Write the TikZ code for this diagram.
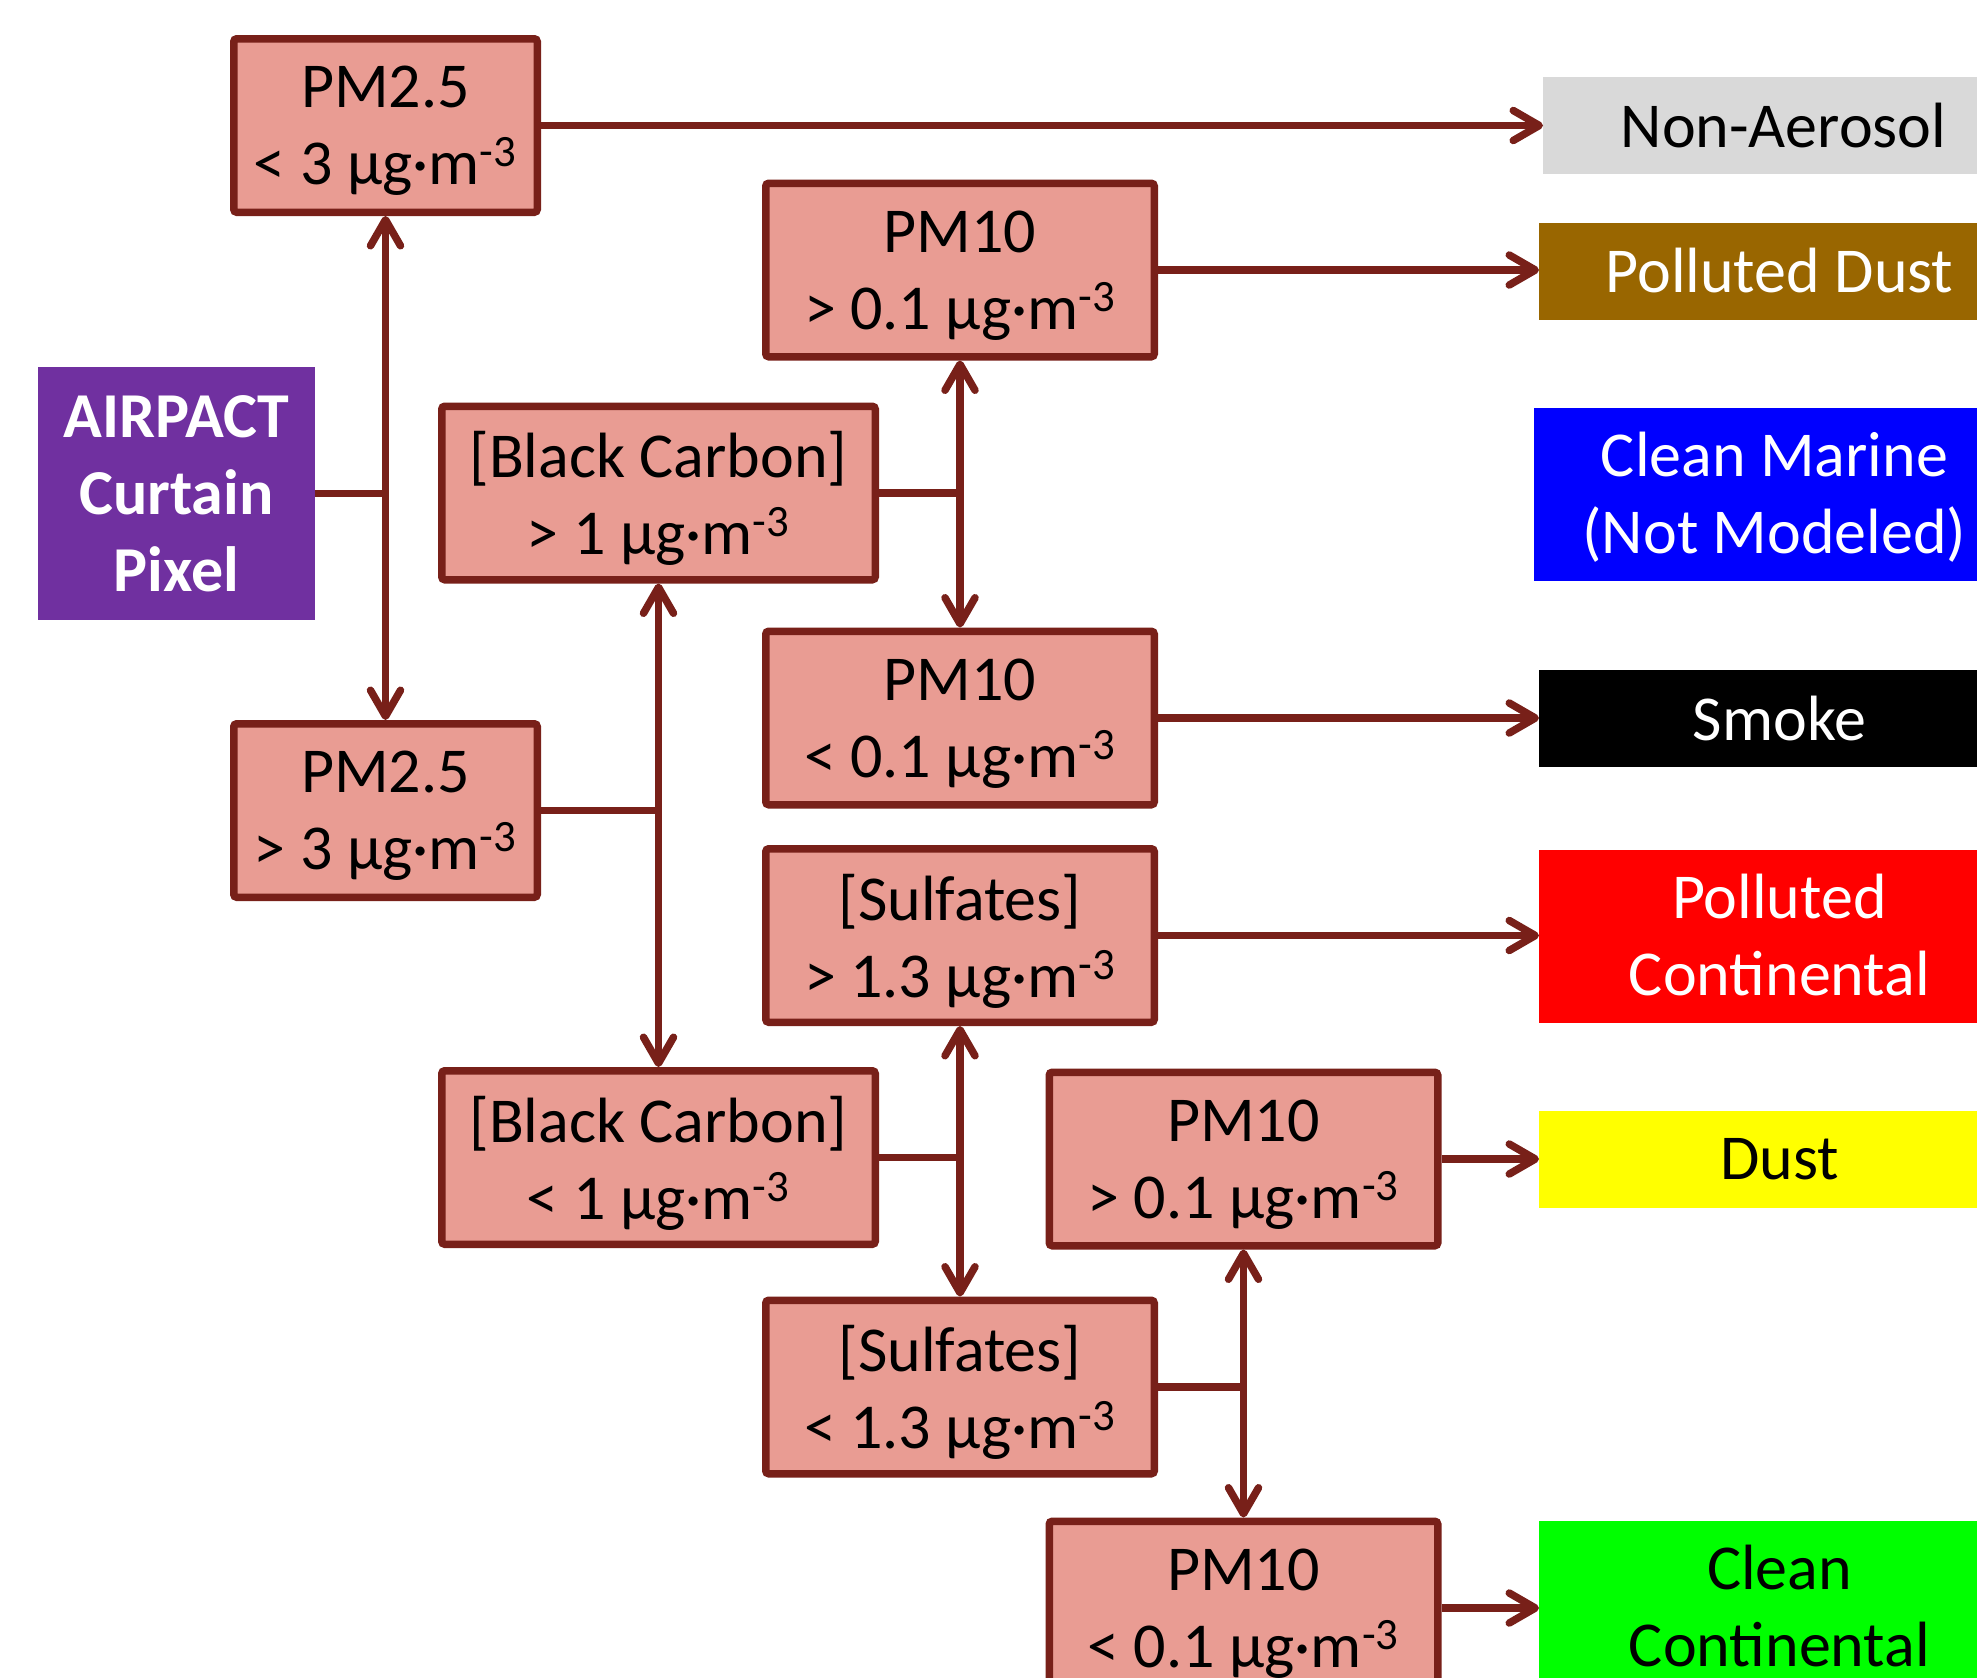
\documentclass[tikz,border=0pt]{standalone}
\usepackage{fontspec}
\setmainfont{Carlito}
\usetikzlibrary{arrows.meta}
\definecolor{boxfill}{HTML}{E99C93}
\definecolor{boxline}{HTML}{782019}
\definecolor{airpurple}{HTML}{7030A0}
\definecolor{nagray}{HTML}{D9D9D9}
\definecolor{pdbrown}{HTML}{996600}
\definecolor{cmblue}{HTML}{0000FF}
\definecolor{pcred}{HTML}{FF0000}
\definecolor{dyellow}{HTML}{FFFF00}
\definecolor{ccgreen}{HTML}{00FF00}
\newcommand{\cubm}{\textsuperscript{-3}}
\begin{document}
\begin{tikzpicture}[x=0.5pt,y=-0.5pt,
  every node/.style={font=\fontsize{32}{38.5}\selectfont, align=center, inner sep=0pt},
  crit/.style={draw=boxline, fill=boxfill, line width=3.75pt, rounded corners=1.5pt, minimum height=86.75pt, text depth=0pt},
  wsmall/.style={minimum width=151.75pt},
  wbc/.style={minimum width=216.75pt},
  wpm/.style={minimum width=194.25pt},
  cls/.style={anchor=west, outer sep=0pt, minimum width=240.5pt},
  one/.style={minimum height=48.5pt},
  two/.style={minimum height=86.5pt, text depth=1pt},
  conn/.style={draw=boxline, line width=3.75pt},
  arr/.style={conn, -{Straight Barb[length=13pt,width=15pt,round]}}
]
\clip (0,0) rectangle (1977,1677);
\fill[white] (0,0) rectangle (1977,1677);

% decision boxes
\node[crit,wsmall] (pm25a) at (385.5,125.5) {PM2.5\\< 3 µg·m\cubm};
\node[fill=airpurple, text=white, font=\fontsize{32}{38.5}\selectfont\bfseries,
      minimum width=138.5pt, minimum height=126.5pt, outer sep=0pt] (airpact) at (176.5,493.5) {AIRPACT\\Curtain\\Pixel};
\node[crit,wpm] (pm10a) at (960,270) {PM10\\> 0.1 µg·m\cubm};
\node[crit,wbc] (bc1) at (658.5,493) {[Black Carbon]\\> 1 µg·m\cubm};
\node[crit,wpm] (pm10b) at (960,718) {PM10\\< 0.1 µg·m\cubm};
\node[crit,wsmall] (pm25b) at (385.5,810.5) {PM2.5\\> 3 µg·m\cubm};
\node[crit,wpm] (so4a) at (960,935.5) {[Sulfates]\\> 1.3 µg·m\cubm};
\node[crit,wbc] (bc2) at (658.5,1157.5) {[Black Carbon]\\< 1 µg·m\cubm};
\node[crit,wpm] (pm10c) at (1243.5,1159) {PM10\\> 0.1 µg·m\cubm};
\node[crit,wpm] (so4b) at (960,1387) {[Sulfates]\\< 1.3 µg·m\cubm};
\node[crit,wpm] (pm10d) at (1243.5,1608) {PM10\\< 0.1 µg·m\cubm};

% class boxes
\node[cls,one,fill=nagray,text=black] (nonaer) at (1543,125.5) {Non-Aerosol};
\node[cls,one,fill=pdbrown,text=white] (pdust) at (1539,271) {Polluted Dust};
\node[cls,two,fill=cmblue,text=white] (cmarine) at (1534,494) {Clean Marine\\(Not Modeled)};
\node[cls,one,fill=black,text=white] (smoke) at (1539,718) {Smoke};
\node[cls,two,fill=pcred,text=white] (pcont) at (1539,936) {Polluted\\Continental};
\node[cls,one,fill=dyellow,text=black] (dust) at (1539,1159) {Dust};
\node[cls,two,fill=ccgreen,text=black] (ccont) at (1539,1607) {Clean\\Continental};

% junctions
\coordinate (j1) at (pm25a.south |- airpact.east);
\coordinate (j2) at (bc1.south |- pm25b.east);
\coordinate (j3) at (pm10a.south |- bc1.east);
\coordinate (j4) at (so4a.south |- bc2.east);
\coordinate (j5) at (pm10c.south |- so4b.east);

\draw[conn] (airpact.east) -- (j1);
\draw[arr] (j1) -- (pm25a.south);
\draw[arr] (j1) -- (pm25b.north);

\draw[conn] (pm25b.east) -- (j2);
\draw[arr] (j2) -- (bc1.south);
\draw[arr] (j2) -- (bc2.north);

\draw[conn] (bc1.east) -- (j3);
\draw[arr] (j3) -- (pm10a.south);
\draw[arr] (j3) -- (pm10b.north);

\draw[conn] (bc2.east) -- (j4);
\draw[arr] (j4) -- (so4a.south);
\draw[arr] (j4) -- (so4b.north);

\draw[conn] (so4b.east) -- (j5);
\draw[arr] (j5) -- (pm10c.south);
\draw[arr] (j5) -- (pm10d.north);

% outcomes
\draw[arr] (pm25a.east) -- (pm25a.east -| nonaer.west);
\draw[arr] (pm10a.east) -- (pm10a.east -| pdust.west);
\draw[arr] (pm10b.east) -- (pm10b.east -| smoke.west);
\draw[arr] (so4a.east) -- (so4a.east -| pcont.west);
\draw[arr] (pm10c.east) -- (pm10c.east -| dust.west);
\draw[arr] (pm10d.east) -- (pm10d.east -| ccont.west);
\end{tikzpicture}
\end{document}
